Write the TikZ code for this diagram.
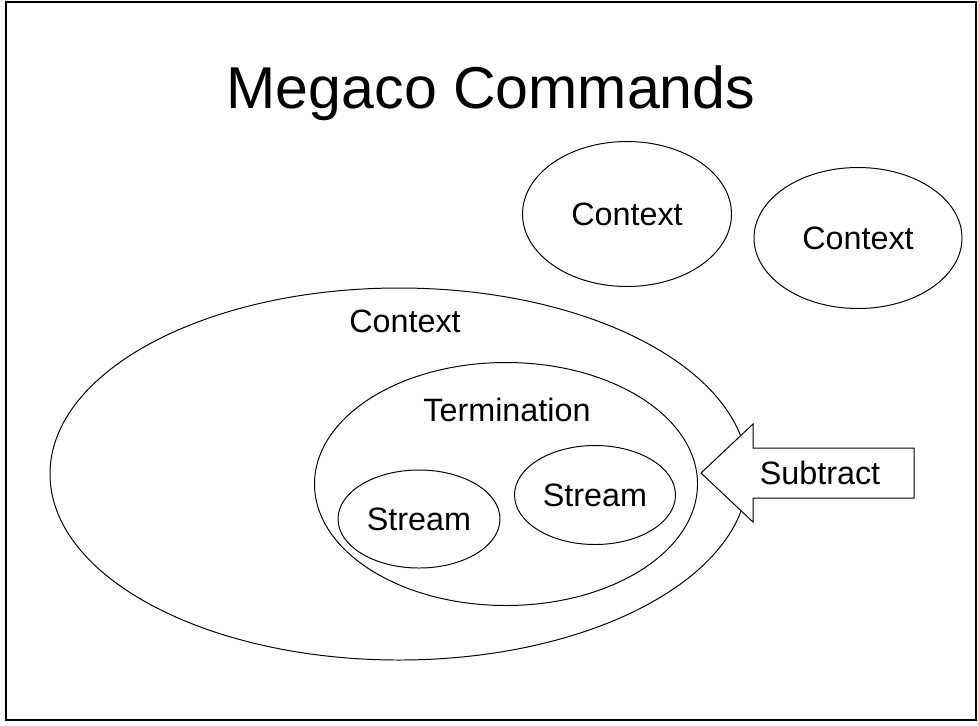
\documentclass[tikz,border=0pt]{standalone}
\usepackage{fontspec}
\setmainfont{Liberation Sans}
\usetikzlibrary{shapes.geometric}

\tikzset{
  ring/.style={draw, ellipse, inner sep=0pt, line width=0.7pt},
  lbl/.style={font=\fontsize{23}{27}\selectfont},
}

\begin{document}
\begin{tikzpicture}[x=0.025cm, y=-0.025cm]
            \useasboundingbox (0,0) rectangle (978,725);
            \draw[line width=1.4pt] (6,2) rectangle (976,720);
            \node[font=\fontsize{42}{48}\selectfont] (title) at (491,93) {Megaco Commands};
            % outer context with termination and streams
            \node[ring, minimum width=698*0.025cm, minimum height=372*0.025cm] (ctxbig) at (399,474) {};
            \node[lbl] (ctxlbl) at (405,321) {Context};
            \node[ring, minimum width=383*0.025cm, minimum height=243*0.025cm] (term) at (506,484) {};
            \node[lbl] (termlbl) at (507,410) {Termination};
            \node[ring, lbl, minimum width=162*0.025cm, minimum height=98*0.025cm] (streamA) at (419,519) {Stream};
            \node[ring, lbl, minimum width=161*0.025cm, minimum height=99*0.025cm] (streamB) at (595,495) {Stream};
            % lone contexts
            \node[ring, lbl, minimum width=209*0.025cm, minimum height=145*0.025cm] (ctxA) at (627,214) {Context};
            \node[ring, lbl, minimum width=208*0.025cm, minimum height=141*0.025cm] (ctxB) at (858,238) {Context};
            % subtract arrow
            \draw[fill=white, line width=0.7pt] (701,473) -- (753,424) -- (753,448) -- (914,448) -- (914,498) -- (753,498) -- (753,522) -- cycle;
            \node[lbl] (sub) at (820,473) {Subtract};
        \end{tikzpicture}
\end{document}
